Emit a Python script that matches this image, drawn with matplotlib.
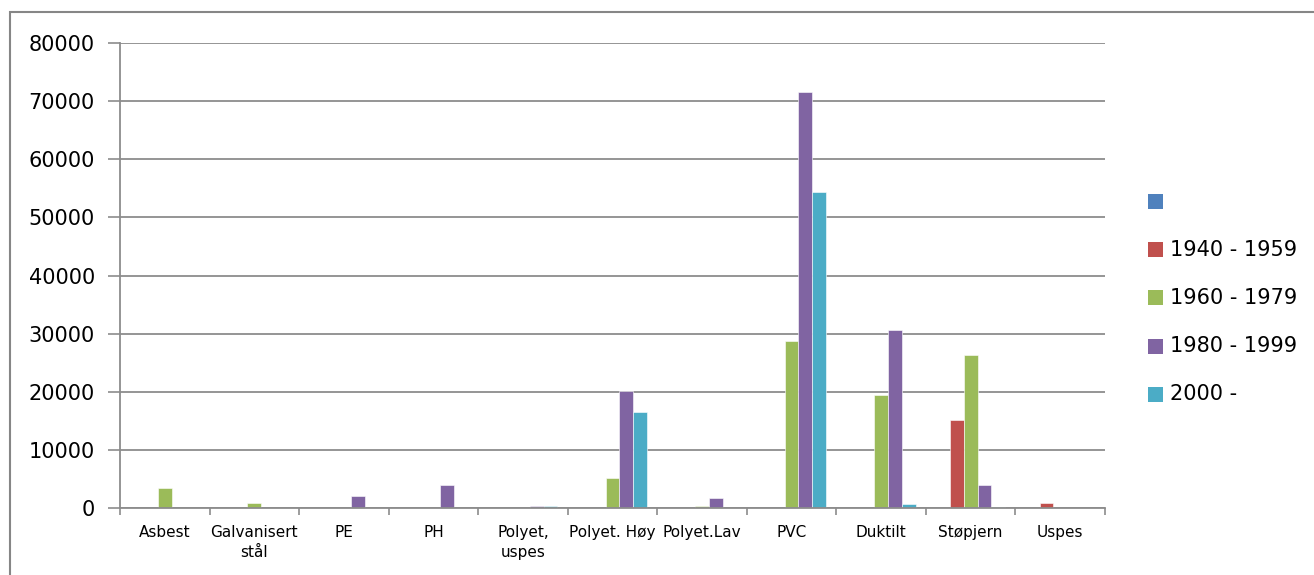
import numpy as np
import matplotlib
matplotlib.use("Agg")
import matplotlib.pyplot as plt
from matplotlib.patches import Rectangle

# Pipe length by material and laying period
categories = ["Asbest", "Galvanisert\nstål", "PE", "PH", "Polyet,\nuspes",
              "Polyet. Høy", "Polyet.Lav", "PVC", "Duktilt", "Støpjern", "Uspes"]
series_labels = ["", "1940 - 1959", "1960 - 1979", "1980 - 1999", "2000 -"]
unknown_period = [0, 0, 0, 0, 0, 0, 0, 0, 0, 0, 0]
period_1940_1959 = [0, 0, 0, 0, 0, 0, 0, 0, 0, 15100, 900]
period_1960_1979 = [3500, 800, 0, 0, 0, 5100, 400, 28700, 19500, 26300, 0]
period_1980_1999 = [0, 0, 2100, 4000, 400, 20100, 1800, 71500, 30700, 3900, 0]
period_2000 = [0, 0, 0, 0, 400, 16500, 0, 54300, 700, 100, 0]
y_ticks = [0, 10000, 20000, 30000, 40000, 50000, 60000, 70000, 80000]

colors = ["#4F81BD", "#C0504D", "#9BBB59", "#8064A2", "#4BACC6"]
series = [unknown_period, period_1940_1959, period_1960_1979, period_1980_1999, period_2000]

W, H = 1314, 575
fig = plt.figure(figsize=(W / 100, H / 100), dpi=100)
fig.patch.set_facecolor("white")

# Chart-area border
fig.patches.append(Rectangle((10 / W, -0.1), 1.2, (H - 12) / H + 0.1,
                             transform=fig.transFigure, fill=False,
                             edgecolor="#868686", linewidth=1.5))

left, right, top, bottom = 120, 1105, 43, 508
ax = fig.add_axes([left / W, (H - bottom) / H, (right - left) / W, (bottom - top) / H])

x = np.arange(len(categories))
n = len(series)
bw = 1 / (n + 1.5)
for i, (vals, c) in enumerate(zip(series, colors)):
    ax.bar(x + (i - (n - 1) / 2) * bw, vals, width=bw, color=c,
           edgecolor="white", linewidth=0.4, zorder=3)

ax.set_xlim(-0.5, len(categories) - 0.5)
ax.set_ylim(0, 80000)
ax.set_yticks(y_ticks)
ax.set_yticklabels([str(v) for v in y_ticks], fontsize=15, family="DejaVu Sans")
ax.yaxis.grid(True, color="#8c8c8c", linewidth=1.3, zorder=0)
ax.tick_params(axis="y", length=9, width=1.2, color="#8c8c8c", pad=9)

ax.set_xticks(x)
ax.set_xticklabels(categories, fontsize=11, linespacing=1.45, family="DejaVu Sans")
ax.set_xticks(np.arange(len(categories) + 1) - 0.5, minor=True)
ax.tick_params(axis="x", which="major", length=0, pad=12)
ax.tick_params(axis="x", which="minor", length=5, width=1.2, color="#8c8c8c")

for s in ["top", "right"]:
    ax.spines[s].set_visible(False)
for s in ["left", "bottom"]:
    ax.spines[s].set_color("#8c8c8c")
    ax.spines[s].set_linewidth(1.3)
    ax.spines[s].set_zorder(4)

# Legend drawn as squares with labels to the right of the plot
for i, (lab, c) in enumerate(zip(series_labels, colors)):
    yc = 201.5 + i * 48.2
    fig.patches.append(Rectangle((1148 / W, (H - yc - 7.5) / H), 15 / W, 15 / H,
                                 transform=fig.transFigure, facecolor=c,
                                 edgecolor="none"))
    fig.text(1170 / W, (H - yc) / H, lab, fontsize=15, va="center", ha="left",
             family="DejaVu Sans")

fig.savefig("out.png", dpi=100)
